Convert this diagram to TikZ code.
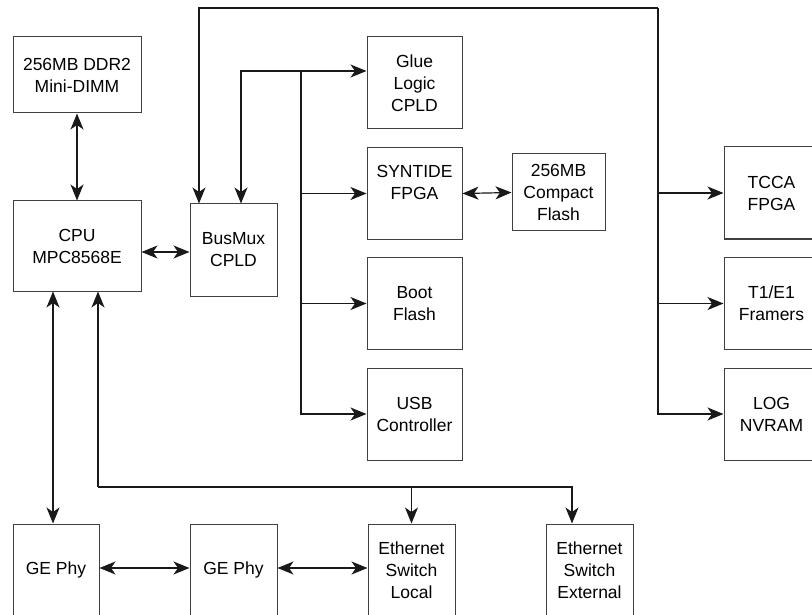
\documentclass[tikz,border=0pt]{standalone}
\usepackage{fontspec}
\setmainfont{Liberation Sans}
\usetikzlibrary{arrows.meta}
\tikzset{
 blk/.style={draw=black!75,line width=1pt,minimum width=95pt,minimum height=92pt,
  align=center,inner sep=0pt,font=\fontsize{17.5}{22}\selectfont},
 eblk/.style={blk,minimum width=87pt},
 lnk/.style={draw=black!90,line width=1.2pt},
 >={Stealth[length=16pt,width=13pt,inset=4.5pt]}
}
\begin{document}
\begin{tikzpicture}[x=1pt,y=-1pt]
 \useasboundingbox (0,0) rectangle (812,615);
 \node[blk,minimum width=128pt,minimum height=76pt] (dimm) at (77,75) {256MB DDR2\\Mini-DIMM};
 \node[blk,minimum width=128pt,minimum height=90pt] (cpu) at (77,246) {CPU\\MPC8568E};
 \node[eblk] (busmux) at (233.5,250) {BusMux\\CPLD};
 \node[blk] (glue) at (414.5,83) {Glue\\Logic\\CPLD};
 \node[blk] (syntide) at (414.5,193.5) {SYNTIDE\\FPGA\\~};
 \node[blk,minimum width=93pt,minimum height=77pt] (cflash) at (558.5,192.5) {256MB\\Compact\\Flash};
 \node[blk] (boot) at (414.5,303.5) {Boot\\Flash};
 \node[blk] (usb) at (414.5,414) {USB\\Controller};
 \node[blk] (tcca) at (771.5,193) {TCCA\\FPGA};
 \node[blk] (framer) at (771.5,303.5) {T1/E1\\Framers};
 \node[blk] (nvram) at (771.5,414) {LOG\\NVRAM};
 \node[eblk,minimum width=86pt] (gephya) at (56,570) {GE Phy};
 \node[eblk] (gephyb) at (233.5,570) {GE Phy};
 \node[eblk] (locsw) at (411.5,570) {Ethernet\\Switch\\Local};
 \node[eblk] (extsw) at (589.5,570) {Ethernet\\Switch\\External};
 \coordinate (ntop) at (199,8);
 \coordinate (ntr) at (658,8);
 \coordinate (lbus) at (241,71);
 \coordinate (ljoin) at (301,71);
 \coordinate (ebus) at (98,487);
 \coordinate (ebend) at (572,487);
 \draw[lnk,<->] (dimm) -- (cpu);
 \draw[lnk,<->] (cpu.east |- 0,252) -- (busmux.west |- 0,252);
 \draw[lnk,->] (ntr) -- (ntop) -- (ntop |- busmux.north);
 \draw[lnk,->] (ntr) |- (nvram.west);
 \draw[lnk,->] (ntr |- tcca.west) -- (tcca.west);
 \draw[lnk,->] (ntr |- framer.west) -- (framer.west);
 \draw[lnk,<->] (lbus |- busmux.north) -- (lbus) -- (glue.west |- lbus);
 \draw[lnk,->] (ljoin) |- (usb.west);
 \draw[lnk,->] (ljoin |- syntide.west) -- (syntide.west);
 \draw[lnk,->] (ljoin |- boot.west) -- (boot.west);
 \draw[lnk,<->] (syntide.east) -- (cflash.west);
 \draw[lnk,<->] (cpu.south -| 53,0) -- (gephya.north -| 53,0);
 \draw[lnk,->] (ebus) -- (ebus |- cpu.south);
 \draw[lnk,->] (ebus) -- (ebend) -- (ebend |- extsw.north);
 \draw[lnk,->] (ebus -| locsw) -- (locsw.north);
 \draw[lnk,<->] (gephya.east |- 0,568) -- (gephyb.west |- 0,568);
 \draw[lnk,<->] (gephyb.east |- 0,568) -- (locsw.west |- 0,568);
\end{tikzpicture}
\end{document}
